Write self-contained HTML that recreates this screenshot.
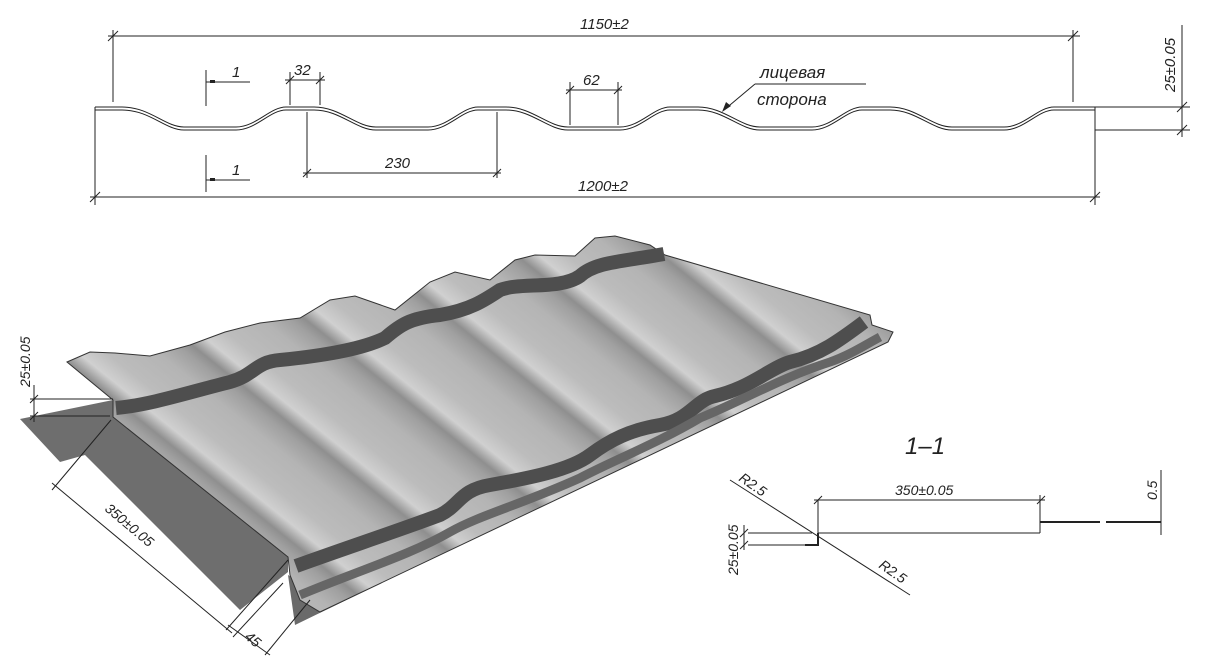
<!DOCTYPE html>
<html><head><meta charset="utf-8"><style>
html,body{margin:0;padding:0;background:#fff}
svg{display:block}
text{font-family:"Liberation Sans","DejaVu Sans",sans-serif;font-style:italic;fill:#222}
</style></head><body>
<svg width="1215" height="657" viewBox="0 0 1215 657" xmlns="http://www.w3.org/2000/svg">
<defs>
<linearGradient id="g" gradientUnits="userSpaceOnUse" x1="115" y1="400" x2="172" y2="329" spreadMethod="repeat">
<stop offset="0" stop-color="#8f8f8f"/>
<stop offset="0.15" stop-color="#d0d0d0"/>
<stop offset="0.35" stop-color="#bcbcbc"/>
<stop offset="0.7" stop-color="#b4b4b4"/>
<stop offset="0.9" stop-color="#a0a0a0"/>
<stop offset="1" stop-color="#8f8f8f"/>
</linearGradient>
</defs>
<g stroke="#222" stroke-width="1" fill="none">
<path id="prof" d="M95,107 L122,107 C150,107 165,127 184,127 L236,127 C256,127 270,107 286,107 L314,107 C340,107 356,127 376,127 L428,127 C448,127 462,107 478,107 L506,107 C532,107 548,127 568,127 L620,127 C640,127 654,107 670,107 L698,107 C724,107 740,127 760,127 L812,127 C832,127 846,107 862,107 L890,107 C916,107 932,127 952,127 L1004,127 C1024,127 1038,107 1054,107 L1095,107"/>
<use href="#prof" transform="translate(0,3)"/>
<line x1="95" y1="107" x2="95" y2="110"/>
<line x1="1095" y1="107" x2="1095" y2="205"/>
<line x1="95" y1="110" x2="95" y2="205"/>
<line x1="108" y1="36" x2="1080" y2="36"/>
<line x1="113" y1="30" x2="113" y2="102"/>
<line x1="1073" y1="30" x2="1073" y2="102"/>
<line x1="108" y1="41" x2="118" y2="31"/><line x1="1068" y1="41" x2="1078" y2="31"/>
<line x1="90" y1="197" x2="1100" y2="197"/>
<line x1="90" y1="202" x2="100" y2="192"/><line x1="1090" y1="202" x2="1100" y2="192"/>
<line x1="1095" y1="107" x2="1190" y2="107"/>
<line x1="1095" y1="130" x2="1190" y2="130"/>
<line x1="1182" y1="25" x2="1182" y2="137"/>
<line x1="1177" y1="112" x2="1187" y2="102"/><line x1="1177" y1="135" x2="1187" y2="125"/>
<line x1="206" y1="70" x2="206" y2="106"/><line x1="206" y1="82" x2="250" y2="82"/>
<line x1="206" y1="155" x2="206" y2="192"/><line x1="206" y1="180" x2="250" y2="180"/>
<line x1="290" y1="72" x2="290" y2="105"/><line x1="320" y1="72" x2="320" y2="105"/>
<line x1="285" y1="80" x2="325" y2="80"/>
<line x1="286" y1="84" x2="294" y2="76"/><line x1="316" y1="84" x2="324" y2="76"/>
<line x1="570" y1="82" x2="570" y2="125"/><line x1="618" y1="82" x2="618" y2="125"/>
<line x1="566" y1="90" x2="622" y2="90"/>
<line x1="566" y1="94" x2="574" y2="86"/><line x1="614" y1="94" x2="622" y2="86"/>
<line x1="307" y1="112" x2="307" y2="178"/><line x1="497" y1="112" x2="497" y2="178"/>
<line x1="303" y1="173" x2="501" y2="173"/>
<line x1="303" y1="177" x2="311" y2="169"/><line x1="493" y1="177" x2="501" y2="169"/>
<line x1="755" y1="84" x2="866" y2="84"/>
<line x1="755" y1="84" x2="724" y2="110"/>
</g>
<path d="M722,112 L726,102 L731,106 Z" fill="#222"/>
<rect x="210" y="80" width="5" height="3" fill="#222"/>
<rect x="210" y="178" width="5" height="3" fill="#222"/>
<g font-size="15">
<text x="580" y="29">1150±2</text>
<text x="578" y="191">1200±2</text>
<text x="232" y="77">1</text>
<text x="232" y="175">1</text>
<text x="294" y="75">32</text>
<text x="583" y="85">62</text>
<text x="385" y="168">230</text>
<text x="760" y="78" font-size="17">лицевая</text>
<text x="757" y="105" font-size="17">сторона</text>
<text transform="translate(1175,92) rotate(-90)">25±0.05</text>
</g>

<!-- 3D sheet -->
<polygon points="20,419 113,400 288,557 288,572 240,610 85,455 60,462" fill="#6e6e6e"/>
<polygon points="288,575 330,600 890,335 880,340 295,625" fill="#6a6a6a"/>
<polygon points="67,362 90,352 115,353 150,356 190,345 225,332 260,323 300,318 330,300 355,296 395,310 430,282 455,272 490,280 515,260 535,255 575,256 595,238 615,236 650,245 665,255 870,315 872,325 893,332 888,342 320,612 300,600 290,575 288,557 113,417 113,400" fill="url(#g)" stroke="#333" stroke-width="1"/>
<g fill="none" stroke="#4e4e4e" stroke-width="14" stroke-linejoin="round">
<path d="M116,408 C150,405 190,392 230,382 C255,375 255,362 280,360 C320,356 360,350 385,338 C400,325 410,318 440,315 C470,310 485,300 500,290 C520,282 560,290 580,276 C595,262 620,262 664,254"/>
<path d="M296,566 C340,550 400,530 440,515 C460,505 460,490 490,485 C530,478 570,470 590,455 C610,440 630,430 660,425 C690,420 695,400 715,396 C750,388 770,368 790,362 C820,355 840,340 864,322"/>
<path d="M300,595 C360,570 410,555 450,532 C480,515 520,505 580,478 C610,462 660,442 700,418 C740,402 780,378 830,362 C850,355 865,345 880,337" stroke-width="9" stroke="#666"/>
</g>
<g stroke="#222" stroke-width="1" fill="none">
<line x1="34" y1="385" x2="34" y2="422"/>
<line x1="30" y1="399" x2="113" y2="399"/>
<line x1="30" y1="416" x2="110" y2="416"/>
<line x1="30" y1="403" x2="38" y2="395"/><line x1="30" y1="420" x2="38" y2="412"/>
<line x1="111" y1="420" x2="52" y2="490"/>
<line x1="288" y1="560" x2="226" y2="630"/>
<line x1="283" y1="583" x2="233" y2="637"/>
<line x1="310" y1="600" x2="265" y2="655"/>
<line x1="52" y1="483" x2="232" y2="633"/>
<line x1="228" y1="625" x2="270" y2="655"/>
</g>
<g font-size="14">
<text transform="translate(30,387) rotate(-90)">25±0.05</text>
<text transform="translate(104,510) rotate(40)">350±0.05</text>
<text transform="translate(244,638) rotate(40)">45</text>
</g>

<text x="905" y="454" font-size="24">1–1</text>
<g stroke="#222" stroke-width="1" fill="none">
<line x1="814" y1="500" x2="1045" y2="500"/>
<line x1="814" y1="504" x2="822" y2="496"/><line x1="1037" y1="504" x2="1045" y2="496"/>
<line x1="818" y1="500" x2="818" y2="545"/>
<line x1="818" y1="533" x2="1040" y2="533"/>
<line x1="1040" y1="495" x2="1040" y2="533"/>
<line x1="748" y1="533" x2="812" y2="533"/>
<line x1="748" y1="545" x2="805" y2="545"/>
<line x1="744" y1="525" x2="744" y2="550"/>
<line x1="740" y1="537" x2="748" y2="529"/><line x1="740" y1="549" x2="748" y2="541"/>
<line x1="730" y1="480" x2="910" y2="595"/>
<line x1="1161" y1="470" x2="1161" y2="535"/>
</g>
<g stroke="#222" stroke-width="2" fill="none">
<polyline points="805,545 818,545 818,533"/>
<line x1="1040" y1="522" x2="1100" y2="522"/>
<line x1="1106" y1="522" x2="1161" y2="522"/>
</g>
<g font-size="14">
<text x="895" y="495">350±0.05</text>
<text transform="translate(738,480) rotate(35)">R2.5</text>
<text transform="translate(878,567) rotate(35)">R2.5</text>
<text transform="translate(738,575) rotate(-90)">25±0.05</text>
<text transform="translate(1157,500) rotate(-90)">0.5</text>
</g>
</svg>
</body></html>
